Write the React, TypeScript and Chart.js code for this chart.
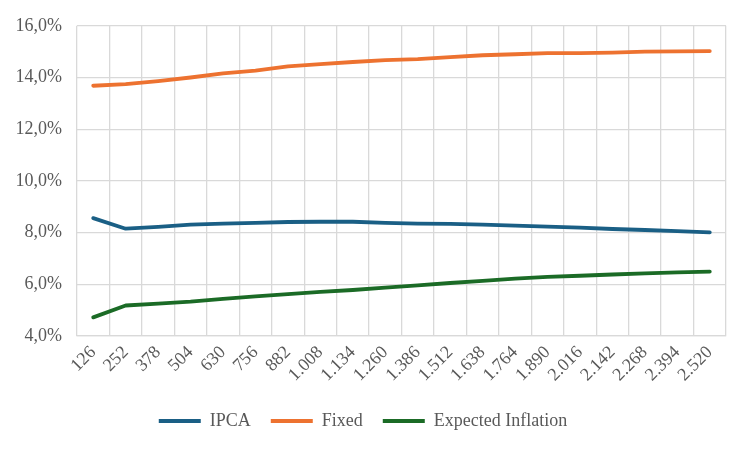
import React, { useEffect, useRef } from "react";
import { Chart, registerables } from "chart.js";

Chart.register(...registerables);

const categories = ["126","252","378","504","630","756","882","1.008","1.134","1.260","1.386","1.512","1.638","1.764","1.890","2.016","2.142","2.268","2.394","2.520"];
const ipca = [8.56,8.15,8.22,8.31,8.35,8.38,8.41,8.42,8.42,8.38,8.35,8.34,8.31,8.27,8.23,8.19,8.14,8.10,8.06,8.01];
const fixed = [13.68,13.74,13.86,14.0,14.16,14.27,14.43,14.52,14.60,14.67,14.71,14.79,14.86,14.90,14.94,14.94,14.96,15.0,15.01,15.02];
const expectedInflation = [4.72,5.18,5.25,5.33,5.44,5.53,5.62,5.71,5.78,5.87,5.96,6.05,6.13,6.22,6.29,6.33,6.38,6.42,6.46,6.49];
const yTicks = [4,6,8,10,12,14,16];

const FONT = "'Liberation Serif', 'Times New Roman', serif";
const GRAY = "#595959";

export default function App() {
  const ref = useRef<HTMLCanvasElement | null>(null);
  useEffect(() => {
    if (!ref.current) return;
    const mk = (label: string, data: number[], color: string) => ({
      label, data, borderColor: color, backgroundColor: color,
      borderWidth: 3.8, pointRadius: 0, tension: 0,
      borderCapStyle: "round" as const, borderJoinStyle: "round" as const,
    });
    const chart = new Chart(ref.current, {
      type: "line",
      data: {
        labels: categories,
        datasets: [
          mk("IPCA", ipca, "#1a5f85"),
          mk("Fixed", fixed, "#ed7230"),
          mk("Expected Inflation", expectedInflation, "#1b6b26"),
        ],
      },
      options: {
        animation: false,
        responsive: false,
        devicePixelRatio: 1,
        layout: { padding: { top: 22, right: 24, left: 0, bottom: 10 } },
        plugins: {
          tooltip: { enabled: false },
          legend: {
            position: "bottom",
            labels: {
              usePointStyle: true,
              pointStyle: "line",
              pointStyleWidth: 42,
              color: GRAY,
              font: { family: FONT, size: 18 },
              padding: 20,
            },
          },
        },
        scales: {
          x: {
            offset: true,
            grid: { color: "#d9d9d9", lineWidth: 1.3, offset: true, drawTicks: false },
            border: { color: "#d9d9d9", width: 1.3 },
            ticks: {
              autoSkip: false, maxRotation: 45, minRotation: 45, padding: 6,
              color: GRAY, font: { family: FONT, size: 18 },
            },
            afterFit: (s: any) => { s.height = 56; },
          },
          y: {
            min: 4, max: 16,
            afterBuildTicks: (s: any) => { s.ticks = yTicks.map((v) => ({ value: v })); },
            grid: { color: "#d9d9d9", lineWidth: 1.3, drawTicks: false },
            border: { display: false },
            ticks: {
              padding: 15, color: GRAY, font: { family: FONT, size: 18 },
              callback: (v: any) => Number(v).toFixed(1).replace(".", ",") + "%",
            },
            afterFit: (s: any) => { s.width = 77; },
          },
        },
      },
    });
    return () => chart.destroy();
  }, []);
  return (
    <div style={{ position: "absolute", left: 0, top: 0, width: 750, height: 450, background: "#fff" }}>
      <canvas ref={ref} width={750} height={450} style={{ width: 750, height: 450 }} />
    </div>
  );
}
